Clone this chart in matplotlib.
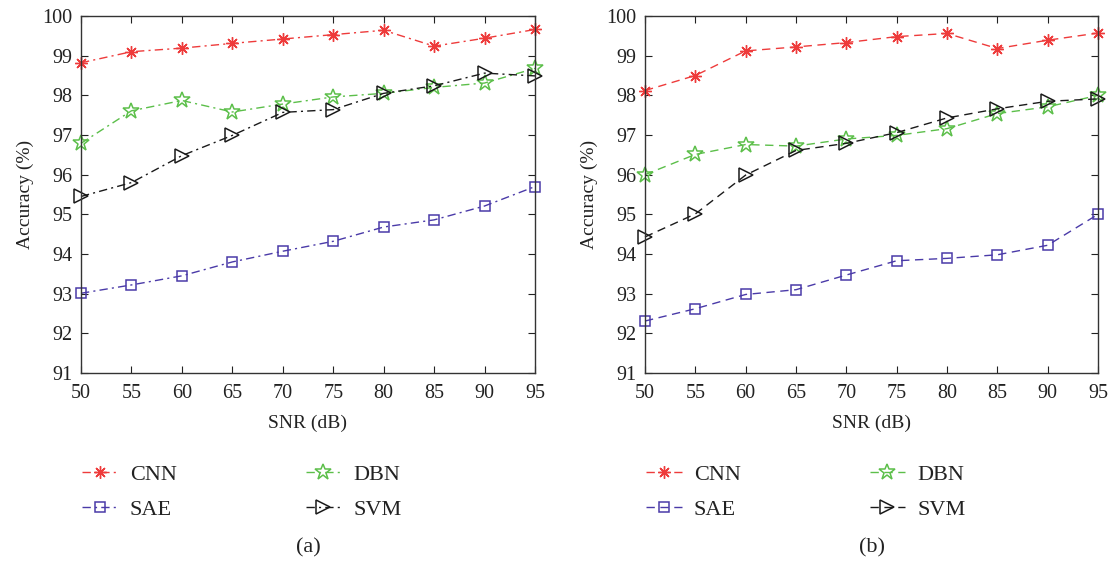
import matplotlib
matplotlib.use("Agg")
import matplotlib.pyplot as plt

plt.rcParams['font.family'] = ['Liberation Serif', 'DejaVu Serif']

snr = [50, 55, 60, 65, 70, 75, 80, 85, 90, 95]

# Panel (a)
cnn_a = [98.82, 99.10, 99.19, 99.31, 99.42, 99.53, 99.64, 99.24, 99.44, 99.66]
dbn_a = [96.79, 97.61, 97.87, 97.58, 97.78, 97.96, 98.05, 98.20, 98.31, 98.68]
sae_a = [93.01, 93.22, 93.45, 93.80, 94.07, 94.32, 94.68, 94.86, 95.21, 95.70]
svm_a = [95.45, 95.80, 96.48, 96.99, 97.57, 97.64, 98.05, 98.24, 98.56, 98.49]

# Panel (b)
cnn_b = [98.12, 98.50, 99.12, 99.22, 99.33, 99.48, 99.56, 99.18, 99.39, 99.57]
dbn_b = [96.00, 96.51, 96.76, 96.72, 96.90, 96.99, 97.16, 97.54, 97.71, 98.00]
sae_b = [92.31, 92.62, 92.98, 93.10, 93.47, 93.83, 93.89, 93.98, 94.22, 95.00]
svm_b = [94.43, 95.01, 95.99, 96.61, 96.79, 97.06, 97.43, 97.66, 97.85, 97.91]

# legend order fills column-wise: CNN, SAE | DBN, SVM
labels = ['CNN', 'SAE', 'DBN', 'SVM']
colors = ['#ee3b3b', '#4a3aa8', '#5cbf4a', '#1a1a1a']
markers = [(8, 2, 0), 's', '*', '>']
msizes = [9, 7, 12, 10]
yticks = [91, 92, 93, 94, 95, 96, 97, 98, 99, 100]

W, H = 1113, 562
fig = plt.figure(figsize=(W / 100, H / 100), dpi=100)

panels = [
    ((81, 535), [cnn_a, sae_a, dbn_a, svm_a], (0, (6, 3, 1.5, 3)), '(a)'),
    ((645, 1098), [cnn_b, sae_b, dbn_b, svm_b], (0, (6, 4)), '(b)'),
]
top, bottom = 16, 373

for (x0, x1), series, ls, cap in panels:
    ax = fig.add_axes([x0 / W, 1 - bottom / H, (x1 - x0) / W, (bottom - top) / H])
    for i, (vals, lab) in enumerate(zip(series, labels)):
        m = markers[i]
        kw = dict(color=colors[i], linestyle=ls, linewidth=1.0, marker=m,
                  markersize=msizes[i], label=lab)
        if m in ('*', 's', '>'):
            kw.update(markerfacecolor='none', markeredgecolor=colors[i], markeredgewidth=1.1)
        else:
            kw.update(markeredgewidth=1.0)
        ax.plot(snr, vals, clip_on=False, **kw)
    ax.set_xlim(50, 95)
    ax.set_ylim(91, 100)
    ax.set_xticks(snr)
    ax.set_yticks(yticks)
    ax.tick_params(direction='in', top=True, right=True, labelsize=14.5, length=5,
                   width=0.8, colors='#222222')
    ax.tick_params(axis='y', pad=6)
    ax.tick_params(axis='x', pad=8)
    for s in ax.spines.values():
        s.set_linewidth(1.0)
        s.set_color('#333333')
    ax.set_xlabel('SNR (dB)', fontsize=14, color='#222222', labelpad=8)
    ax.set_ylabel('Accuracy (%)', fontsize=14, color='#222222', labelpad=6)
    hx = (x0 + 1) / W
    leg = fig.legend(*ax.get_legend_handles_labels(), loc='center left',
                     bbox_to_anchor=(hx, 1 - 492 / H), bbox_transform=fig.transFigure,
                     ncol=2, frameon=False, fontsize=16, handlelength=1.6,
                     columnspacing=5.8, handletextpad=0.55, labelspacing=0.65,
                     borderpad=0, borderaxespad=0)
    for t in leg.get_texts():
        t.set_color('#222222')
    fig.text((x0 + x1) / 2 / W, 1 - 548 / H, cap, ha='center', va='center',
             fontsize=16, color='#222222')

fig.savefig('out.png', dpi=100)
